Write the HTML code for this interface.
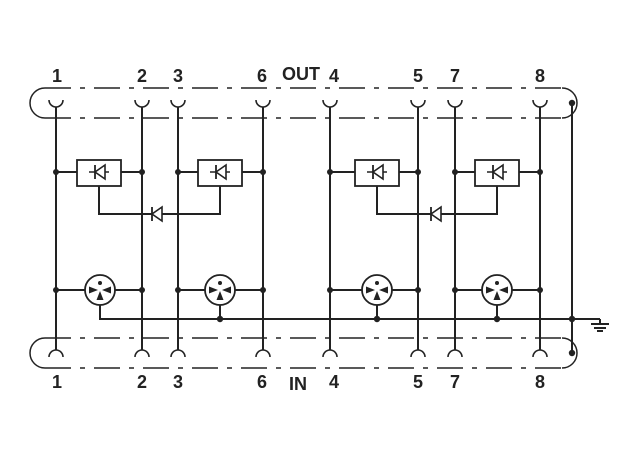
<!DOCTYPE html>
<html><head><style>body{margin:0;background:#fff}svg{display:block}</style></head><body>
<svg width="640" height="468" xmlns="http://www.w3.org/2000/svg">
<defs>
<g id="diode"><line x1="-10" y1="0" x2="10" y2="0" stroke="#222" stroke-width="1.5"/><polygon points="6,-7 6,7 -4,0" fill="#fff" stroke="#222" stroke-width="1.6"/><line x1="-4" y1="-7" x2="-4" y2="7" stroke="#222" stroke-width="1.8"/></g>
<g id="gas"><circle r="15" fill="#fff" stroke="#222" stroke-width="1.8"/><circle cx="0" cy="-7" r="2" fill="#222"/><polygon points="-2,0 -11,-3.5 -11,3.5" fill="#222"/><polygon points="2,0 11,-3.5 11,3.5" fill="#222"/><polygon points="0,1 -3.5,10 3.5,10" fill="#222"/></g>
</defs>
<g stroke="#222" stroke-width="1.5" fill="none">
<g stroke-dasharray="26 9 5 9">
<line x1="45" y1="88" x2="562" y2="88"/><line x1="45" y1="118" x2="562" y2="118"/>
<line x1="45" y1="338" x2="562" y2="338"/><line x1="45" y1="368" x2="562" y2="368"/>
</g>
<path d="M45 88 A15 15 0 0 0 45 118"/><path d="M562 88 A15 15 0 0 1 562 118"/>
<path d="M45 338 A15 15 0 0 0 45 368"/><path d="M562 338 A15 15 0 0 1 562 368"/>
</g>
<g stroke="#222" stroke-width="2" fill="none">
<line x1="56" y1="107" x2="56" y2="350"/><line x1="142" y1="107" x2="142" y2="350"/>
<line x1="178" y1="107" x2="178" y2="350"/><line x1="263" y1="107" x2="263" y2="350"/>
<line x1="330" y1="107" x2="330" y2="350"/><line x1="418" y1="107" x2="418" y2="350"/>
<line x1="455" y1="107" x2="455" y2="350"/><line x1="540" y1="107" x2="540" y2="350"/>
<line x1="572" y1="103" x2="572" y2="353"/>
<g stroke-width="1.6">
<path d="M49 100 A7 7 0 0 0 63 100"/><path d="M135 100 A7 7 0 0 0 149 100"/><path d="M171 100 A7 7 0 0 0 185 100"/><path d="M256 100 A7 7 0 0 0 270 100"/>
<path d="M323 100 A7 7 0 0 0 337 100"/><path d="M411 100 A7 7 0 0 0 425 100"/><path d="M448 100 A7 7 0 0 0 462 100"/><path d="M533 100 A7 7 0 0 0 547 100"/>
<path d="M49 357 A7 7 0 0 1 63 357"/><path d="M135 357 A7 7 0 0 1 149 357"/><path d="M171 357 A7 7 0 0 1 185 357"/><path d="M256 357 A7 7 0 0 1 270 357"/>
<path d="M323 357 A7 7 0 0 1 337 357"/><path d="M411 357 A7 7 0 0 1 425 357"/><path d="M448 357 A7 7 0 0 1 462 357"/><path d="M533 357 A7 7 0 0 1 547 357"/>
</g>
<line x1="56" y1="172" x2="142" y2="172"/><line x1="178" y1="172" x2="263" y2="172"/>
<line x1="330" y1="172" x2="418" y2="172"/><line x1="455" y1="172" x2="540" y2="172"/>
<path d="M99 186 V214 H220 V186"/><path d="M377 186 V214 H497 V186"/>
<line x1="56" y1="290" x2="142" y2="290"/><line x1="178" y1="290" x2="263" y2="290"/>
<line x1="330" y1="290" x2="418" y2="290"/><line x1="455" y1="290" x2="540" y2="290"/>
<path d="M100 300 V319 H600"/><line x1="220" y1="300" x2="220" y2="319"/><line x1="377" y1="300" x2="377" y2="319"/><line x1="497" y1="300" x2="497" y2="319"/>
<line x1="600" y1="319" x2="600" y2="324"/>
<line x1="591" y1="324" x2="609" y2="324"/><line x1="594" y1="328" x2="606" y2="328"/><line x1="597" y1="331" x2="603" y2="331"/>
</g>
<g fill="#fff" stroke="#222" stroke-width="1.8">
<rect x="77" y="160" width="44" height="26"/><rect x="198" y="160" width="44" height="26"/>
<rect x="355" y="160" width="44" height="26"/><rect x="475" y="160" width="44" height="26"/>
</g>
<use href="#diode" x="99" y="172"/><use href="#diode" x="220" y="172"/><use href="#diode" x="377" y="172"/><use href="#diode" x="497" y="172"/>
<use href="#diode" x="156" y="214"/><use href="#diode" x="435" y="214"/>
<use href="#gas" x="100" y="290"/><use href="#gas" x="220" y="290"/><use href="#gas" x="377" y="290"/><use href="#gas" x="497" y="290"/>
<g fill="#222">
<circle cx="56" cy="172" r="3"/><circle cx="142" cy="172" r="3"/><circle cx="178" cy="172" r="3"/><circle cx="263" cy="172" r="3"/>
<circle cx="330" cy="172" r="3"/><circle cx="418" cy="172" r="3"/><circle cx="455" cy="172" r="3"/><circle cx="540" cy="172" r="3"/>
<circle cx="56" cy="290" r="3"/><circle cx="142" cy="290" r="3"/><circle cx="178" cy="290" r="3"/><circle cx="263" cy="290" r="3"/>
<circle cx="330" cy="290" r="3"/><circle cx="418" cy="290" r="3"/><circle cx="455" cy="290" r="3"/><circle cx="540" cy="290" r="3"/>
<circle cx="220" cy="319" r="3.2"/><circle cx="377" cy="319" r="3.2"/><circle cx="497" cy="319" r="3.2"/><circle cx="572" cy="319" r="3.2"/>
<circle cx="572" cy="103" r="3.2"/><circle cx="572" cy="353" r="3.2"/>
</g>
<g font-family="Liberation Sans, sans-serif" font-weight="bold" font-size="18" fill="#222" text-anchor="middle">
<text x="57" y="82">1</text><text x="142" y="82">2</text><text x="178" y="82">3</text><text x="262" y="82">6</text>
<text x="301" y="80">OUT</text><text x="334" y="82">4</text><text x="418" y="82">5</text><text x="455" y="82">7</text><text x="540" y="82">8</text>
<text x="57" y="388">1</text><text x="142" y="388">2</text><text x="178" y="388">3</text><text x="262" y="388">6</text>
<text x="298" y="390">IN</text><text x="334" y="388">4</text><text x="418" y="388">5</text><text x="455" y="388">7</text><text x="540" y="388">8</text>
</g>
</svg>
</body></html>
